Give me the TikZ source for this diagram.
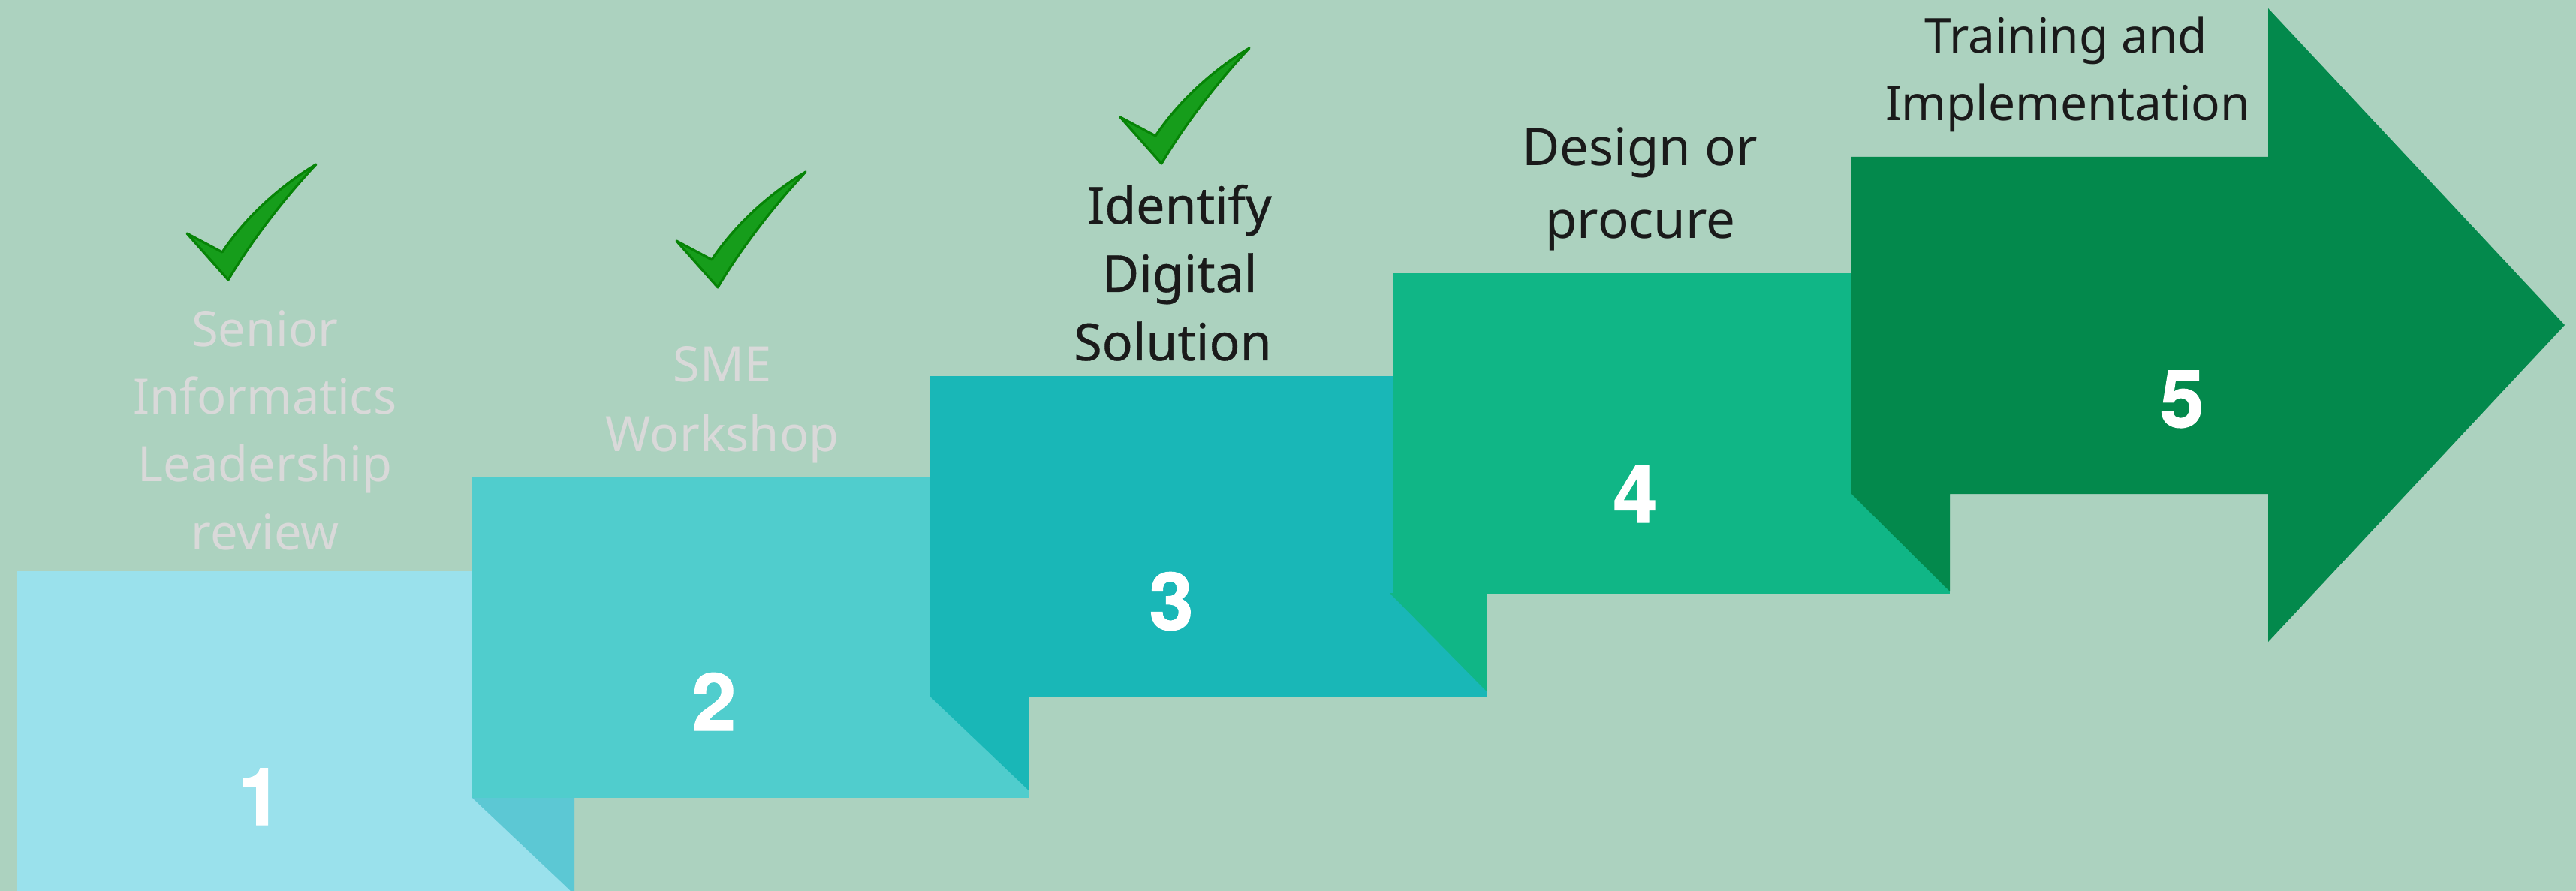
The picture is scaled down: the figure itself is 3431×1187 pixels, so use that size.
\documentclass[tikz,border=0pt]{standalone}
\usepackage{fontspec}
\setmainfont{Noto Sans}
\newfontfamily\lblfont{Noto Sans}
\newfontfamily\lblbold[FakeBold=0.5]{Noto Sans}
\newfontfamily\digfont[BoldFeatures={FakeBold=1.2}]{TeX Gyre Heros}
\definecolor{bgc}{HTML}{ACD2BF}
\definecolor{sa}{HTML}{9AE1EC}
\definecolor{fa}{HTML}{5CC8D4}
\definecolor{sb}{HTML}{50CDCD}
\definecolor{sc}{HTML}{19B7B7}
\definecolor{sd}{HTML}{10B686}
\definecolor{se}{HTML}{03894C}
\definecolor{lightlbl}{HTML}{D9D9D9}
\definecolor{darklbl}{HTML}{1A1A1A}
\definecolor{ckfill}{HTML}{169D1B}
\definecolor{ckline}{HTML}{078407}
\tikzset{
  x=0.5pt,y=-0.5pt,
  digit/.style={font=\digfont\bfseries\fontsize{53}{53}\selectfont,text=white,inner sep=0,anchor=base},
  lightlabel/.style={font=\lblfont\fontsize{32.5}{32.5}\selectfont,text=lightlbl,inner sep=0,anchor=base},
  darklabel/.style={font=\lblfont\fontsize{34.5}{34.5}\selectfont,text=darklbl,inner sep=0,anchor=base},
  toplabel/.style={font=\lblfont\fontsize{32}{32}\selectfont,text=darklbl,inner sep=0,anchor=base},
  boldlabel/.style={font=\lblbold\fontsize{34}{34}\selectfont,text=darklbl,inner sep=0,anchor=base},
  checkmark/.style={fill=ckfill,draw=ckline,line width=1.6pt,line join=round}
}
\newcommand{\tickat}[2]{%
  \path[checkmark,shift={(#1,#2)}] (0,0)
    .. controls (-50,30) and (-95,72) .. (-125,117)
    -- (-172,92)
    -- (-117,154)
    .. controls (-88,105) and (-45,48) .. cycle;}
\begin{document}
\begin{tikzpicture}
\useasboundingbox (0,0) rectangle (3431,1187);
\fill[bgc] (0,0) rectangle (3431,1187);
% step 1
\fill[sa] (22,761) -- (765,761) -- (765,1187) -- (22,1187) -- cycle;
\fill[fa] (629,1063) -- (765,1063) -- (765,1187) -- (760,1187) -- cycle;
% step 2
\fill[sb] (629,636) -- (1370,636) -- (1370,1063) -- (629,1063) -- cycle;
\fill[sc] (1239,928) -- (1370,928) -- (1370,1053) -- cycle;
% step 3
\fill[sc] (1239,501) -- (1980,501) -- (1980,928) -- (1239,928) -- cycle;
\fill[sd] (1851,790) -- (1980,790) -- (1980,921) -- cycle;
% step 4
\fill[sd] (1856,364) -- (2597,364) -- (2597,791) -- (1856,791) -- cycle;
% step 5
\fill[se] (2466,209) -- (3021,209) -- (3021,11) -- (3416,433) -- (3021,855) -- (3021,658) -- (2597,658) -- (2597,788) -- (2466,658) -- cycle;
% digits
\node[digit] (d1) at (346,1099) {1};
\node[digit] (d2) at (951,973) {2};
\node[digit] (d3) at (1560,839) {3};
\node[digit] (d4) at (2178,696) {4};
\node[digit] (d5) at (2906,569) {5};
% labels
\node[lightlabel] (a1) at (353,461) {Senior};
\node[lightlabel] (a2) at (353,551) {Informatics};
\node[lightlabel] (a3) at (353,641) {Leadership};
\node[lightlabel] (a4) at (353,732) {review};
\node[lightlabel] (b1) at (962,509) {SME};
\node[lightlabel] (b2) at (962,601) {Workshop};
\node[boldlabel] (c1) at (1571,298) {Identify};
\node[boldlabel] (c2) at (1571,389) {Digital};
\node[boldlabel] (c3) at (1562,480) {Solution};
\node[darklabel] (e1) at (2184,221) {Design or};
\node[darklabel] (e2) at (2185,318) {procure};
\node[toplabel] (f1) at (2752,71) {Training and};
\node[toplabel] (f2) at (2754,161) {Implementation};
% ticks
\tickat{421}{219}
\tickat{1073}{229}
\tickat{1664}{64}
\end{tikzpicture}
\end{document}
